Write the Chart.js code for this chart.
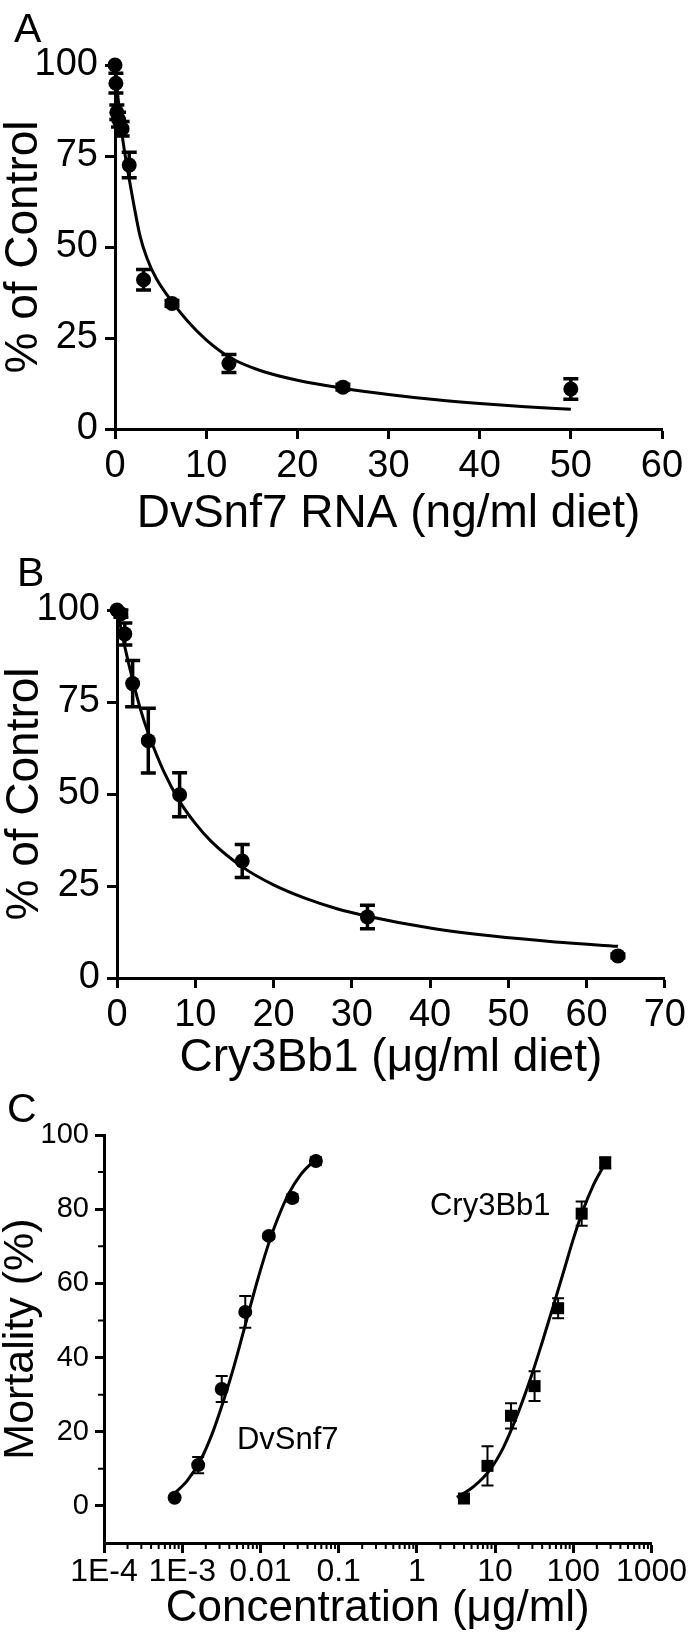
<!DOCTYPE html>
<html>
<head>
<meta charset="utf-8">
<script src="https://cdn.jsdelivr.net/npm/chart.js@4.4.1/dist/chart.umd.min.js"></script>
<style>
    html, body { margin: 0; padding: 0; background: #fff; }
    canvas { display: block; }
</style>
</head>
<body>
<canvas id="panelA" width="691" height="540"></canvas>
<canvas id="panelB" width="691" height="542"></canvas>
<canvas id="panelC" width="691" height="556"></canvas>
<script>
// Panel A: DvSnf7 RNA
const doseA = [0, 0.1, 0.2, 0.39, 0.78, 1.56, 3.13, 6.25, 12.5, 25, 50];
const meanA = [100, 95, 87, 85, 82.5, 72.5, 41, 34.5, 18, 11.5, 11];
const semA = [0, 2.7, 2, 2, 2, 3.5, 2.8, 0.8, 2.5, 0.8, 2.8];
const fitXA = [0, 0.25, 0.5, 0.75, 1, 1.5, 2, 2.75, 3.5, 4.5, 6.4, 8, 10, 12.7, 16, 20, 25, 30, 35, 40, 45, 50];
const fitYA = [100, 93, 87, 81.5, 77, 69.5, 62.5, 53, 47, 41.5, 34.5, 29.5, 24.5, 19.5, 16, 13.4, 11.2, 9.5, 8.1, 7.0, 6.1, 5.4];
const ticksAX = [0, 10, 20, 30, 40, 50, 60];
const ticksAY = [0, 25, 50, 75, 100];

// Panel B: Cry3Bb1
const doseB = [0, 0.5, 1, 2, 4, 8, 16, 32, 64];
const meanB = [100, 99, 93.5, 80, 64.5, 49.8, 31.8, 16.6, 6];
const semB = [0, 1, 3, 6.3, 8.8, 6, 4.5, 3.2, 0.5];
const fitXB = [0, 0.5, 1, 2, 3, 4, 6, 8, 10, 12, 16, 20, 24, 28, 32, 40, 48, 56, 64];
const fitYB = [100, 95, 90, 81, 73, 66.5, 56, 48, 42, 37.2, 30.2, 25.3, 21.7, 18.9, 16.8, 13.6, 11.4, 9.8, 8.6];
const ticksBX = [0, 10, 20, 30, 40, 50, 60, 70];
const ticksBY = [0, 25, 50, 75, 100];

// Panel C: mortality
const seriesC = ['DvSnf7', 'Cry3Bb1'];
const doseDv = [0.0008, 0.0016, 0.0032, 0.0064, 0.0128, 0.0256, 0.0512];
const mortDv = [2.2, 11, 31.5, 52.3, 72.8, 83, 93];
const semDv = [0.5, 2.2, 3.5, 4.3, 0.8, 1, 1];
const fitXDv = [0.00078, 0.00116, 0.00171, 0.00242, 0.00324, 0.00436, 0.00556, 0.0071, 0.00908, 0.0122, 0.0163, 0.023, 0.0324, 0.048];
const fitYDv = [3.2, 6.8, 12.3, 19.5, 27.2, 36.0, 44.0, 52.3, 60.5, 69.5, 77.0, 84.2, 89.2, 93.0];
const doseCry = [4, 8, 16, 32, 64, 128, 256];
const mortCry = [2, 10.8, 24.3, 32.3, 53.3, 78.8, 92.5];
const semCry = [0.5, 5.3, 3.4, 4, 2.7, 3.3, 1.5];
const fitXCry = [3.25, 5.3, 8.65, 12.8, 18.97, 28.05, 39.6, 55.7, 74.8, 100.2, 134.6, 180.7, 242.1];
const fitYCry = [2.3, 5.2, 9.8, 15.8, 24.2, 34.0, 43.8, 54.0, 63.0, 72.0, 80.0, 86.5, 91.5];
const ticksCX = [1e-4, 1e-3, 0.01, 0.1, 1, 10, 100, 1000];
const labelsCX = ['1E-4', '1E-3', '0.01', '0.1', '1', '10', '100', '1000'];
const ticksCY = [0, 20, 40, 60, 80, 100];
const minorCY = [10, 30, 50, 70, 90];

const FONT = "'Liberation Sans', Arial, sans-serif";
Chart.defaults.font.family = FONT;
Chart.defaults.color = '#000';

function pairs(xs, ys) {
    return xs.map(function (x, i) { return { x: x, y: ys[i] }; });
}

function buildScale(cfg) {
    return {
        type: cfg.type || 'linear',
        position: cfg.position,
        min: cfg.min,
        max: cfg.max,
        afterBuildTicks: function (scale) {
            scale.ticks = cfg.ticks.map(function (v) { return { value: v }; });
        },
        afterFit: function (scale) {
            if (cfg.position === 'left') {
                scale.width = cfg.size;
            } else {
                scale.height = cfg.size;
            }
        },
        border: { display: true, color: '#000', width: 3 },
        grid: {
            display: true,
            drawOnChartArea: false,
            drawTicks: true,
            tickLength: cfg.tickLength,
            tickWidth: 3,
            tickColor: '#000'
        },
        ticks: {
            color: '#000',
            font: { size: cfg.tickSize },
            padding: cfg.tickPad,
            maxRotation: 0,
            autoSkip: false,
            callback: function (v, i) {
                return cfg.labels ? cfg.labels[i] : String(v);
            }
        },
        title: {
            display: true,
            text: cfg.title,
            color: '#000',
            font: { size: cfg.titleSize, lineHeight: 1 },
            padding: cfg.titlePad
        }
    };
}

const errorBars = {
    id: 'errorBars',
    afterDatasetsDraw: function (chart) {
        const ctx = chart.ctx;
        const xs = chart.scales.x;
        const ys = chart.scales.y;
        chart.data.datasets.forEach(function (ds) {
            if (!ds.errors) {
                return;
            }
            ctx.save();
            ctx.strokeStyle = '#000';
            ctx.lineWidth = ds.errorWidth;
            ctx.beginPath();
            ds.data.forEach(function (p, i) {
                const e = ds.errors[i];
                if (!e) {
                    return;
                }
                const px = xs.getPixelForValue(p.x);
                const top = ys.getPixelForValue(p.y + e);
                const bot = ys.getPixelForValue(p.y - e);
                const c = ds.capHalf;
                ctx.moveTo(px, top); ctx.lineTo(px, bot);
                ctx.moveTo(px - c, top); ctx.lineTo(px + c, top);
                ctx.moveTo(px - c, bot); ctx.lineTo(px + c, bot);
            });
            ctx.stroke();
            ctx.restore();
        });
    }
};

function panelLetter(letter, x, y) {
    return {
        id: 'letter' + letter,
        afterDraw: function (chart) {
            const ctx = chart.ctx;
            ctx.save();
            ctx.font = '41px ' + FONT;
            ctx.fillStyle = '#000';
            ctx.textBaseline = 'alphabetic';
            ctx.fillText(letter, x, y);
            ctx.restore();
        }
    };
}

// minor ticks on panel C axes
const minorTicksC = {
    id: 'minorTicksC',
    afterDraw: function (chart) {
        const ctx = chart.ctx;
        const xs = chart.scales.x;
        const ys = chart.scales.y;
        const area = chart.chartArea;
        ctx.save();
        ctx.strokeStyle = '#000';
        ctx.lineWidth = 2;
        ctx.beginPath();
        for (let k = -4; k < 3; k++) {
            for (let m = 2; m < 10; m++) {
                const px = xs.getPixelForValue(m * Math.pow(10, k));
                ctx.moveTo(px, area.bottom);
                ctx.lineTo(px, area.bottom + 6);
            }
        }
        minorCY.forEach(function (v) {
            const py = ys.getPixelForValue(v);
            ctx.moveTo(area.left, py);
            ctx.lineTo(area.left - 6, py);
        });
        ctx.stroke();
        ctx.restore();
    }
};

const seriesLabelsC = {
    id: 'seriesLabelsC',
    afterDatasetsDraw: function (chart) {
        const ctx = chart.ctx;
        const xs = chart.scales.x;
        const ys = chart.scales.y;
        const anchors = [[0.005, 15.4], [1.47, 78.3]];
        ctx.save();
        ctx.font = '31px ' + FONT;
        ctx.fillStyle = '#000';
        ctx.textBaseline = 'alphabetic';
        seriesC.forEach(function (name, i) {
            ctx.fillText(name, xs.getPixelForValue(anchors[i][0]), ys.getPixelForValue(anchors[i][1]));
        });
        ctx.restore();
    }
};

function curve(xs, ys) {
    return {
        data: pairs(xs, ys),
        showLine: true,
        borderColor: '#000',
        borderWidth: 3,
        pointRadius: 0,
        cubicInterpolationMode: 'monotone',
        clip: false
    };
}

function points(xs, ys, errs, opts) {
    return {
        data: pairs(xs, ys),
        errors: errs,
        errorWidth: opts.errorWidth,
        capHalf: opts.capHalf,
        pointStyle: opts.style || 'circle',
        pointRadius: opts.radius,
        pointBackgroundColor: '#000',
        pointBorderColor: '#000',
        pointBorderWidth: 0,
        showLine: false,
        clip: false
    };
}

const baseOptions = {
    animation: false,
    responsive: false,
    events: [],
    plugins: { legend: { display: false }, tooltip: { enabled: false } }
};

new Chart(document.getElementById('panelA'), {
    type: 'scatter',
    data: {
        datasets: [
            curve(fitXA, fitYA),
            points(doseA, meanA, semA, { errorWidth: 3.5, capHalf: 7.5, radius: 7.5 })
        ]
    },
    options: Object.assign({}, baseOptions, {
        layout: { padding: { left: 0, top: 65, right: 29, bottom: 0 } },
        scales: {
            x: buildScale({ position: 'bottom', min: 0, max: 60, ticks: ticksAX, size: 111, tickLength: 10,
                tickSize: 38, tickPad: 5, title: 'DvSnf7 RNA (ng/ml diet)', titleSize: 46, titlePad: { top: 0, bottom: 3 } }),
            y: buildScale({ position: 'left', min: 0, max: 100, ticks: ticksAY, size: 115, tickLength: 10,
                tickSize: 38, tickPad: 7, title: '% of Control', titleSize: 46, titlePad: { top: 1, bottom: 0 } })
        }
    }),
    plugins: [errorBars, panelLetter('A', 14, 42)]
});

new Chart(document.getElementById('panelB'), {
    type: 'scatter',
    data: {
        datasets: [
            curve(fitXB, fitYB),
            points(doseB, meanB, semB, { errorWidth: 3.5, capHalf: 7.5, radius: 7.5 })
        ]
    },
    options: Object.assign({}, baseOptions, {
        layout: { padding: { left: 0, top: 70, right: 24, bottom: 0 } },
        scales: {
            x: buildScale({ position: 'bottom', min: 0, max: 70, ticks: ticksBX, size: 104, tickLength: 10,
                tickSize: 38, tickPad: 5, title: 'Cry3Bb1 (μg/ml diet)', titleSize: 46, titlePad: { top: 0, bottom: 1 } }),
            y: buildScale({ position: 'left', min: 0, max: 100, ticks: ticksBY, size: 117, tickLength: 10,
                tickSize: 38, tickPad: 7, title: '% of Control', titleSize: 46, titlePad: { top: 2, bottom: 0 } })
        }
    }),
    plugins: [errorBars, panelLetter('B', 17, 46)]
});

new Chart(document.getElementById('panelC'), {
    type: 'scatter',
    data: {
        datasets: [
            curve(fitXDv, fitYDv),
            curve(fitXCry, fitYCry),
            points(doseDv, mortDv, semDv, { errorWidth: 2, capHalf: 6, radius: 7 }),
            points(doseCry, mortCry, semCry, { errorWidth: 2, capHalf: 6, radius: 8.5, style: 'rect' })
        ]
    },
    options: Object.assign({}, baseOptions, {
        layout: { padding: { left: 0, top: 53, right: 39.5, bottom: 0 } },
        scales: {
            x: buildScale({ type: 'logarithmic', position: 'bottom', min: 1e-4, max: 1000, ticks: ticksCX, labels: labelsCX,
                size: 95, tickLength: 10, tickSize: 32, tickPad: 0, title: 'Concentration (μg/ml)', titleSize: 44,
                titlePad: { top: 0, bottom: 7 } }),
            y: buildScale({ position: 'left', min: -10, max: 100, ticks: ticksCY, size: 104, tickLength: 9,
                tickSize: 29, tickPad: 6, title: 'Mortality (%)', titleSize: 43, titlePad: { top: 0, bottom: 0 } })
        }
    }),
    plugins: [errorBars, minorTicksC, seriesLabelsC, panelLetter('C', 7, 40)]
});
</script>
</body>
</html>
